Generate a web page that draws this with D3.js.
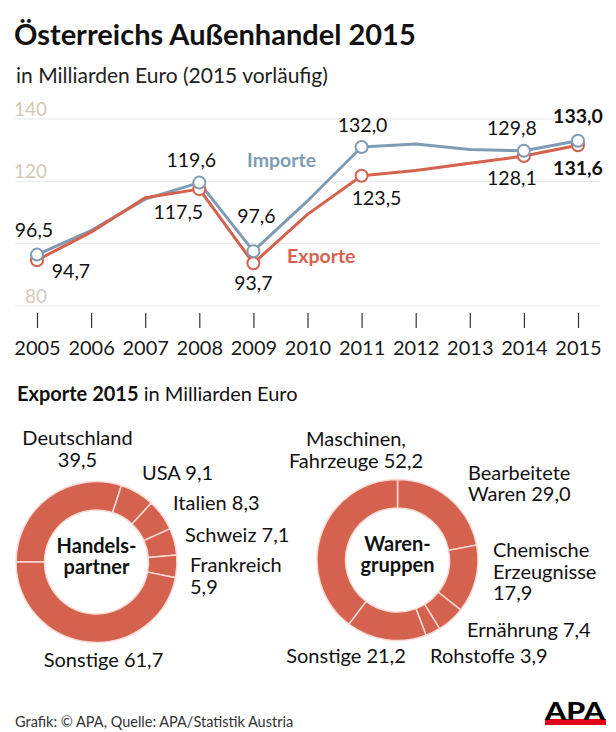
<!DOCTYPE html>
<html><head><meta charset="utf-8">
<script src="https://cdn.jsdelivr.net/npm/d3@7"></script>
<style>
body{margin:0;background:#fff;}
svg{display:block;font-family:Lato, "Open Sans", sans-serif;}
</style></head>
<body>
<svg id="c" width="616" height="732"></svg>
<script>
// ---------- DATA ----------
const years = [2005,2006,2007,2008,2009,2010,2011,2012,2013,2014,2015];
const importe = [96.5,104.2,114.3,119.6,97.6,113.7,131.0,132.0,130.2,129.8,133.0];
const exporte = [94.7,103.7,114.7,117.5,93.7,109.4,121.8,123.5,125.8,128.1,131.6];
const yTicks = [80,100,120,140];
const yTickLabels = [140,120,80];
const markedYears = [2005,2008,2009,2011,2014,2015];
const importLabels = ["96,5","119,6","97,6","132,0","129,8","133,0"];
const exportLabels = ["94,7","117,5","93,7","123,5","128,1","131,6"];

const partnerNames = ["Deutschland","USA","Italien","Schweiz","Frankreich","Sonstige"];
const partnerValues = [39.5,9.1,8.3,7.1,5.9,61.7];
const warenNames = ["Bearbeitete Waren","Chemische Erzeugnisse","Ernährung","Rohstoffe","Sonstige","Maschinen, Fahrzeuge"];
const warenValues = [29.0,17.9,7.4,3.9,21.2,52.2];

// ---------- STYLE ----------
const cImp = "#7f9cb4", cExp = "#d5624f", cDonut = "#d5624f";
const fmt = v => d3.format(".1f")(v).replace(".", ",");

const svg = d3.select("#c");
svg.append("rect").attr("width",616).attr("height",732).attr("fill","#fff");

// Titles
svg.append("text").attr("x",14).attr("y",45).attr("font-size",29).attr("font-weight",700)
  .attr("fill","#111").text("Österreichs Außenhandel 2015");
svg.append("text").attr("x",16).attr("y",83).attr("font-size",21).attr("fill","#222")
  .text("in Milliarden Euro (2015 vorläufig)");

// ---------- LINE CHART ----------
const x = d3.scalePoint().domain(years).range([37,578]);
const y = d3.scaleLinear().domain([80,140]).range([306,119]);

svg.append("g").selectAll("line").data(yTicks).join("line")
  .attr("x1",15).attr("x2",600).attr("y1",d=>y(d)).attr("y2",d=>y(d))
  .attr("stroke","#e7e7e7").attr("stroke-width",1);
svg.append("g").selectAll("text").data(yTickLabels).join("text")
  .attr("x",47).attr("y",d=>y(d)-3).attr("text-anchor","end")
  .attr("font-size",19).attr("fill","#d3cab8").text(d=>d);

const xAxis = d3.axisBottom(x).tickSize(15).tickPadding(8).tickFormat(d=>d);
const gx = svg.append("g").attr("transform","translate(0,313)").call(xAxis);
gx.select(".domain").remove();
gx.selectAll(".tick line").attr("stroke","#333").attr("stroke-width",1.2);
gx.selectAll(".tick text").attr("font-size",20).attr("fill","#1a1a1a")
  .attr("font-family","Lato, sans-serif").attr("dy","0.95em");

const line = d3.line().x((d,i)=>x(years[i])).y(d=>y(d));
svg.append("path").datum(importe).attr("d",line).attr("fill","none")
  .attr("stroke",cImp).attr("stroke-width",3).attr("stroke-linejoin","round");
svg.append("path").datum(exporte).attr("d",line).attr("fill","none")
  .attr("stroke",cExp).attr("stroke-width",3).attr("stroke-linejoin","round");

const idx = markedYears.map(yr=>years.indexOf(yr));
svg.append("g").selectAll("circle").data(idx).join("circle")
  .attr("cx",i=>x(years[i])).attr("cy",i=>y(exporte[i])).attr("r",6)
  .attr("fill","#fff").attr("stroke",cExp).attr("stroke-width",2);
svg.append("g").selectAll("circle").data(idx).join("circle")
  .attr("cx",i=>x(years[i])).attr("cy",i=>y(importe[i])).attr("r",6)
  .attr("fill","#fff").attr("stroke",cImp).attr("stroke-width",2);

// label offsets (layout)
const impOff = [[-3,-18],[-8,-16],[3,-28],[1,-15],[-12,-16],[0,-18]];
const expOff = [[34,18],[-21,30],[0,27],[15,29],[-12,29],[0,30]];
idx.forEach((i,k)=>{
  const bold = years[i]===2015;
  svg.append("text").attr("x",x(years[i])+impOff[k][0]).attr("y",y(importe[i])+impOff[k][1])
    .attr("text-anchor","middle").attr("font-size",19.5).attr("font-weight",bold?700:400)
    .attr("fill","#111").text(importLabels[k]);
  svg.append("text").attr("x",x(years[i])+expOff[k][0]).attr("y",y(exporte[i])+expOff[k][1])
    .attr("text-anchor","middle").attr("font-size",19.5).attr("font-weight",bold?700:400)
    .attr("fill","#111").text(exportLabels[k]);
});
svg.append("text").attr("x",247).attr("y",167).attr("font-size",19.5).attr("font-weight",700)
  .attr("fill",cImp).text("Importe");
svg.append("text").attr("x",287).attr("y",263).attr("font-size",19.5).attr("font-weight",700)
  .attr("fill",cExp).text("Exporte");

// ---------- DONUTS ----------
const hdr = svg.append("text").attr("x",17).attr("y",401).attr("font-size",20).attr("fill","#111");
hdr.append("tspan").attr("font-weight",700).text("Exporte 2015");
hdr.append("tspan").text(" in Milliarden Euro");

const arc = d3.arc().innerRadius(52).outerRadius(80.5);
function donut(cx, cy, names, values, startAngle, center){
  const pie = d3.pie().sort(null).startAngle(startAngle).endAngle(startAngle+2*Math.PI);
  const g = svg.append("g").attr("transform",`translate(${cx},${cy})`);
  g.selectAll("path").data(pie(values)).join("path").attr("d",arc)
    .attr("fill",cDonut).attr("stroke","#f7dcd5").attr("stroke-width",1.5);
  center.forEach((t,k)=>g.append("text").attr("x",0).attr("y",[-9,12][k])
    .attr("text-anchor","middle").attr("font-size",20).attr("font-weight",700)
    .attr("fill","#111").text(t));
}
donut(96.5,562,partnerNames,partnerValues,-Math.PI/2,["Handels-","partner"]);
donut(397.5,560,warenNames,warenValues,0,["Waren-","gruppen"]);

// label layout: lines built from name/value
function labels(names, values, layout){
  layout.forEach((L,i)=>{
    const full = names[i] + " " + fmt(values[i]);
    const words = full.split(" ");
    const lines = L.breaks.map((b,k)=>words.slice(b, L.breaks[k+1]).join(" "));
    const lh = L.lh || 0;
    lines.forEach((ln,k)=>svg.append("text").attr("x",L.x).attr("y",L.y+k*lh)
      .attr("text-anchor",L.a).attr("font-size",20).attr("fill","#111").text(ln));
  });
}
labels(partnerNames, partnerValues, [
  {x:77.5,y:445,a:"middle",breaks:[0,1],lh:22},
  {x:142,y:480,a:"start",breaks:[0]},
  {x:173,y:510,a:"start",breaks:[0]},
  {x:185,y:542,a:"start",breaks:[0]},
  {x:190,y:572,a:"start",breaks:[0,1],lh:21.5},
  {x:103.5,y:667,a:"middle",breaks:[0]}
]);
labels(warenNames, warenValues, [
  {x:468,y:480,a:"start",breaks:[0,1],lh:21},
  {x:493,y:557,a:"start",breaks:[0,1,2],lh:21.5},
  {x:467,y:637,a:"start",breaks:[0]},
  {x:430,y:663,a:"start",breaks:[0]},
  {x:346,y:663,a:"middle",breaks:[0]},
  {x:356,y:446,a:"middle",breaks:[0,1],lh:21.5}
]);

// ---------- FOOTER ----------
svg.append("text").attr("x",15).attr("y",727).attr("font-size",14.5).attr("fill","#333")
  .text("Grafik: © APA, Quelle: APA/Statistik Austria");
svg.append("rect").attr("x",545).attr("y",719).attr("width",61).attr("height",6).attr("fill","#e3001b");
svg.append("text").attr("x",545).attr("y",720).attr("font-size",24).attr("font-weight",900)
  .attr("textLength",60).attr("lengthAdjust","spacingAndGlyphs").attr("fill","#000").text("APA");
</script>
</body></html>
